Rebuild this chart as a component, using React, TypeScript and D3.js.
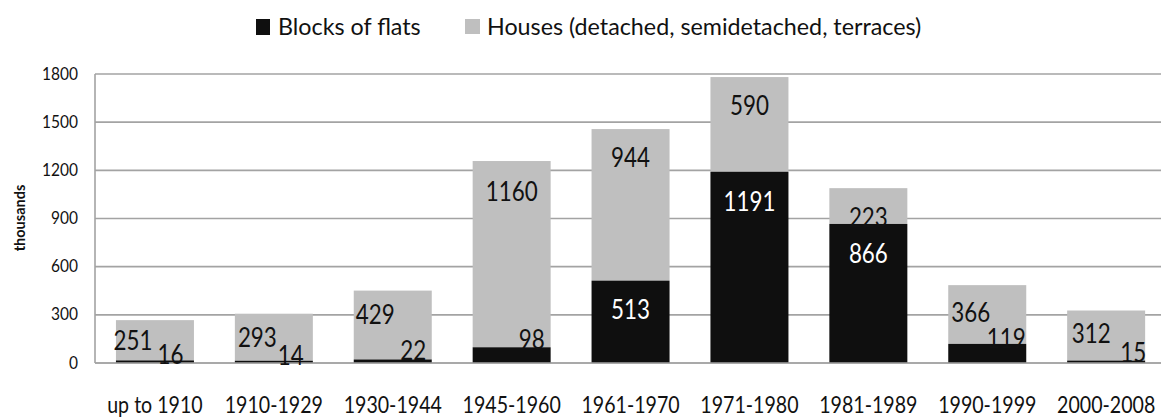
import React from 'react';
import * as d3 from 'd3';

const periods = ['up to 1910', '1910-1929', '1930-1944', '1945-1960', '1961-1970', '1971-1980', '1981-1989', '1990-1999', '2000-2008'];
const flats = [16, 14, 22, 98, 513, 1191, 866, 119, 15];
const houses = [251, 293, 429, 1160, 944, 590, 223, 366, 312];
const yTicks = [0, 300, 600, 900, 1200, 1500, 1800];
const seriesNames = ['Blocks of flats', 'Houses (detached, semidetached, terraces)'];

// hand placed label nudges (px from segment centre), like the original
const flatsNudge = [[15.5, -7], [17, -6.5], [20.5, -11], [20, -16], [0, -12], [0, -66], [0, -39.5], [19, -15], [27, -9]];
const housesNudge = [[-22, 0.7], [-16.5, 0], [-17.5, -10], [0, -63], [0, -47], [0, -19], [0, 11.5], [-16.5, -2], [-15, -1.5]];

const W = 1161, H = 417;
const FONT = 'Lato, "Open Sans", sans-serif';
const SY = 1.17; // glyphs in the source are a bit tall
const BLACK = '#0f0f0f', GREY = '#bfbfbf', GRID = '#a3a3a3';

const T = ({ x, y, size, anchor = 'middle', fill = '#111', weight = 'normal', rotate = 0, sy = SY, children }: any) => (
  <text
    transform={`translate(${x},${y}) rotate(${rotate}) scale(1,${sy})`}
    fontFamily={FONT} fontSize={size} textAnchor={anchor} fill={fill} fontWeight={weight}>
    {children}
  </text>
);

export default function App() {
  const x = d3.scaleBand().domain(periods).range([95.5, 95.5 + 9 * 118.9]).paddingInner(0.344).paddingOuter(0.172);
  const y = d3.scaleLinear().domain([0, 1800]).range([363, 74]);
  const bw = x.bandwidth();
  const capHalf = 0.717 * 22.4 * SY / 2;

  return (
    <svg width={W} height={H} style={{ position: 'absolute', left: 0, top: 0, background: '#fff' }}>
      {/* legend */}
      <rect x={256} y={19} width={14} height={16} fill={BLACK} />
      <T x={278} y={35} size={23.3} anchor="start" sy={1.02}>{seriesNames[0]}</T>
      <rect x={465} y={19} width={15} height={15} fill={GREY} />
      <T x={487} y={35} size={23.3} anchor="start" sy={1.02}>{seriesNames[1]}</T>

      {/* grid + y ticks */}
      {yTicks.map(t => (
        <g key={t}>
          <line x1={95} x2={W} y1={y(t)} y2={y(t)} stroke={GRID} strokeWidth={1.6} />
          <T x={78} y={y(t) + 5.5} size={15.5} anchor="end">{t}</T>
        </g>
      ))}
      <line x1={95} x2={95} y1={y(1800)} y2={y(0)} stroke={GRID} strokeWidth={1.6} />
      <T x={25} y={218} size={14.5} weight="bold" rotate={-90} sy={1}>thousands</T>

      {/* bars */}
      {periods.map((p, i) => (
        <g key={p}>
          <rect x={x(p)} width={bw} y={y(flats[i] + houses[i])} height={y(flats[i]) - y(flats[i] + houses[i])} fill={GREY} />
          <rect x={x(p)} width={bw} y={y(flats[i])} height={y(0) - y(flats[i])} fill={BLACK} />
        </g>
      ))}
      <line x1={95} x2={W} y1={y(0)} y2={y(0)} stroke={GRID} strokeWidth={1.6} />

      {/* data labels */}
      {periods.map((p, i) => {
        const cx = x(p)! + bw / 2;
        const hy = (y(flats[i]) + y(flats[i] + houses[i])) / 2;
        const fy = (y(0) + y(flats[i])) / 2;
        const white = flats[i] > 400;
        return (
          <g key={p}>
            <T x={cx + housesNudge[i][0]} y={hy + housesNudge[i][1] + capHalf} size={22.4}>{houses[i]}</T>
            <T x={cx + flatsNudge[i][0]} y={fy + flatsNudge[i][1] + capHalf} size={22.4} fill={white ? '#fff' : '#111'}>{flats[i]}</T>
          </g>
        );
      })}

      {/* x labels */}
      {periods.map(p => (
        <T key={p} x={x(p)! + bw / 2} y={413} size={19.6}>{p}</T>
      ))}
    </svg>
  );
}
